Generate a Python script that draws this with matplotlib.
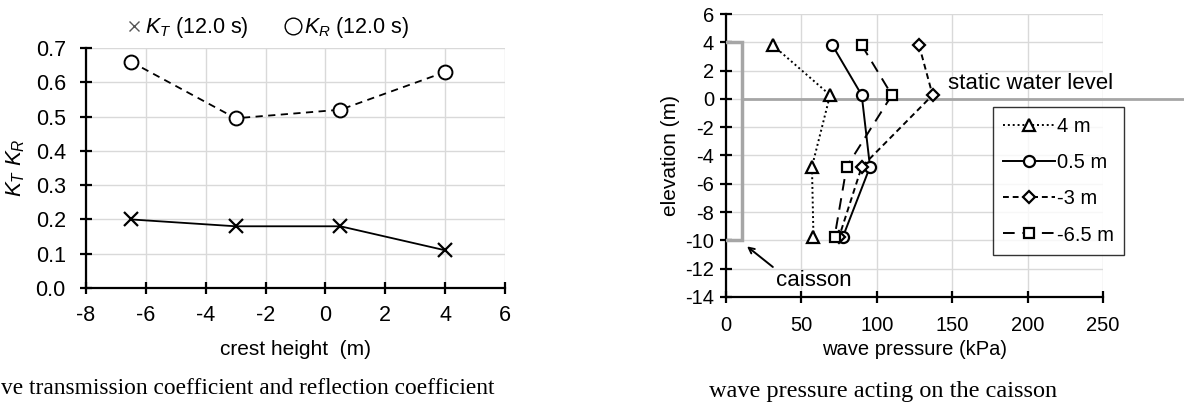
"""
堤体天端高と波浪係数・ケーソン波圧の図
"""
import matplotlib.pyplot as plt
from matplotlib.lines import Line2D

plt.rcParams['font.family'] = ['Liberation Sans', 'DejaVu Sans']
plt.rcParams['axes.unicode_minus'] = False
plt.rcParams['mathtext.fontset'] = 'custom'
plt.rcParams['mathtext.it'] = 'Liberation Sans:italic'
plt.rcParams['mathtext.rm'] = 'Liberation Sans'

# 左図: 天端高と透過率・反射率
crest_height = [-6.5, -3, 0.5, 4]
kt_values = [0.20, 0.18, 0.18, 0.11]
kr_values = [0.66, 0.495, 0.52, 0.63]

# 右図: ケーソンに作用する波圧
elevation = [3.8, 0.27, -4.8, -9.75]
pressure_4m = [31, 69, 57, 58]
pressure_05m = [70.5, 90, 95.5, 77.5]
pressure_m3m = [128, 137, 90, 75]
pressure_m65m = [90, 110, 80, 72]
series_labels = ['4 m', '0.5 m', '-3 m', '-6.5 m']

# ケーソン位置と静水面
caisson_x = 10.6
caisson_top = 4
caisson_bottom = -10

W, H = 1184, 405
fig = plt.figure(figsize=(W / 100, H / 100), dpi=100)


def px_axes(x0, y0, x1, y1):
    return fig.add_axes([x0 / W, (H - y1) / H, (x1 - x0) / W, (y1 - y0) / H])


def style_axes(ax, fs, xpad, ypad):
    for s in ['top', 'right']:
        ax.spines[s].set_visible(False)
    for s in ['left', 'bottom']:
        ax.spines[s].set_linewidth(1.6)
    ax.grid(True, color='#d9d9d9', linewidth=1.0)
    ax.set_axisbelow(True)
    ax.tick_params(direction='inout', length=9, width=1.6, labelsize=fs)
    ax.tick_params(axis='x', pad=xpad)
    ax.tick_params(axis='y', pad=ypad)


# ---- 左図 ----
ax1 = px_axes(86, 48, 505, 288)
ax1.plot(crest_height, kt_values, color='black', linewidth=1.3, marker='x',
         markersize=10, markeredgewidth=1.6)
ax1.plot(crest_height, kr_values, color='black', linewidth=1.3, linestyle=(0, (4, 3)),
         marker='o', markersize=10, markerfacecolor='white', markeredgewidth=1.4)
ax1.set_xlim(-8, 6)
ax1.set_ylim(0, 0.7)
ax1.set_xticks(range(-8, 7, 2))
ax1.set_yticks([i / 10 for i in range(8)])
ax1.yaxis.set_major_formatter(plt.FormatStrFormatter('%.1f'))
style_axes(ax1, 15.5, 8, 10)
ax1.set_xlabel('crest height  (m)', fontsize=15, labelpad=10)
ax1.set_ylabel(r'$K_T\ K_R$', fontsize=16, labelpad=6)

leg_handles = [
    Line2D([], [], linestyle='none', marker='x', color='#555555', markersize=7, markeredgewidth=1),
    Line2D([], [], linestyle='none', marker='o', color='black', markerfacecolor='none',
           markersize=12, markeredgewidth=1),
]
ax1.legend(leg_handles, [r'$K_T$ (12.0 s)', r'$K_R$ (12.0 s)'], ncol=2, frameon=False,
           loc='center', bbox_to_anchor=(0.43, 1.085), fontsize=15.5,
           handletextpad=0.0, columnspacing=1.6, handlelength=1.0, borderaxespad=0)

fig.text(1 / W, (H - 389) / H, 've transmission coefficient and reflection coefficient',
         fontsize=16.8, family='Liberation Serif', va='center', ha='left')

# ---- 右図 ----
ax2 = px_axes(726, 14, 1103, 297)
ax2.set_xlim(0, 250)
ax2.set_ylim(-14, 6)
ax2.set_xticks(range(0, 251, 50))
ax2.set_yticks(range(-14, 7, 2))
style_axes(ax2, 14.5, 9, 4)

# ケーソンと静水面
ax2.plot([0, caisson_x, caisson_x, 0], [caisson_top, caisson_top, caisson_bottom, caisson_bottom],
         color='#a6a6a6', linewidth=2.5, solid_joinstyle='miter', zorder=3)
ax2.plot([caisson_x, 320], [0, 0], color='#a6a6a6', linewidth=2, clip_on=False, zorder=3)

styles = [
    (pressure_4m, (0, (1, 1.5)), '^', 8),
    (pressure_05m, '-', 'o', 8),
    (pressure_m3m, (0, (3, 2)), 'D', 6),
    (pressure_m65m, (0, (6, 4)), 's', 7.5),
]
for (vals, ls, mk, ms), lab in zip(styles, series_labels):
    ax2.plot(vals, elevation, color='black', linestyle=ls, linewidth=1.4, marker=mk,
             markersize=ms, markerfacecolor='white', markeredgewidth=1.6, label=lab, zorder=4)

leg = ax2.legend(loc='upper left', bbox_to_anchor=(0.708, 0.671), fontsize=14.5,
                 frameon=True, fancybox=False, edgecolor='black', handlelength=2.6,
                 borderpad=0.5, labelspacing=0.85, handletextpad=0.1, borderaxespad=0)
leg.get_frame().set_linewidth(1.0)

ax2.text(147, 1.1, 'static water level', fontsize=16, va='center', ha='left', clip_on=False)
ax2.text(33, -12.8, 'caisson', fontsize=16, va='center', ha='left')
ax2.annotate('', xy=(12.5, -10.3), xytext=(32.5, -12.0),
             arrowprops=dict(arrowstyle='->', color='black', linewidth=1.4))

ax2.set_xlabel('wave pressure (kPa)', fontsize=14.5, labelpad=4)
ax2.set_ylabel('elevation (m)', fontsize=15, labelpad=4)

fig.text(883 / W, (H - 392) / H, 'wave pressure acting on the caisson', fontsize=17.5,
         family='Liberation Serif', va='center', ha='center')

fig.savefig('out.png', dpi=100)
